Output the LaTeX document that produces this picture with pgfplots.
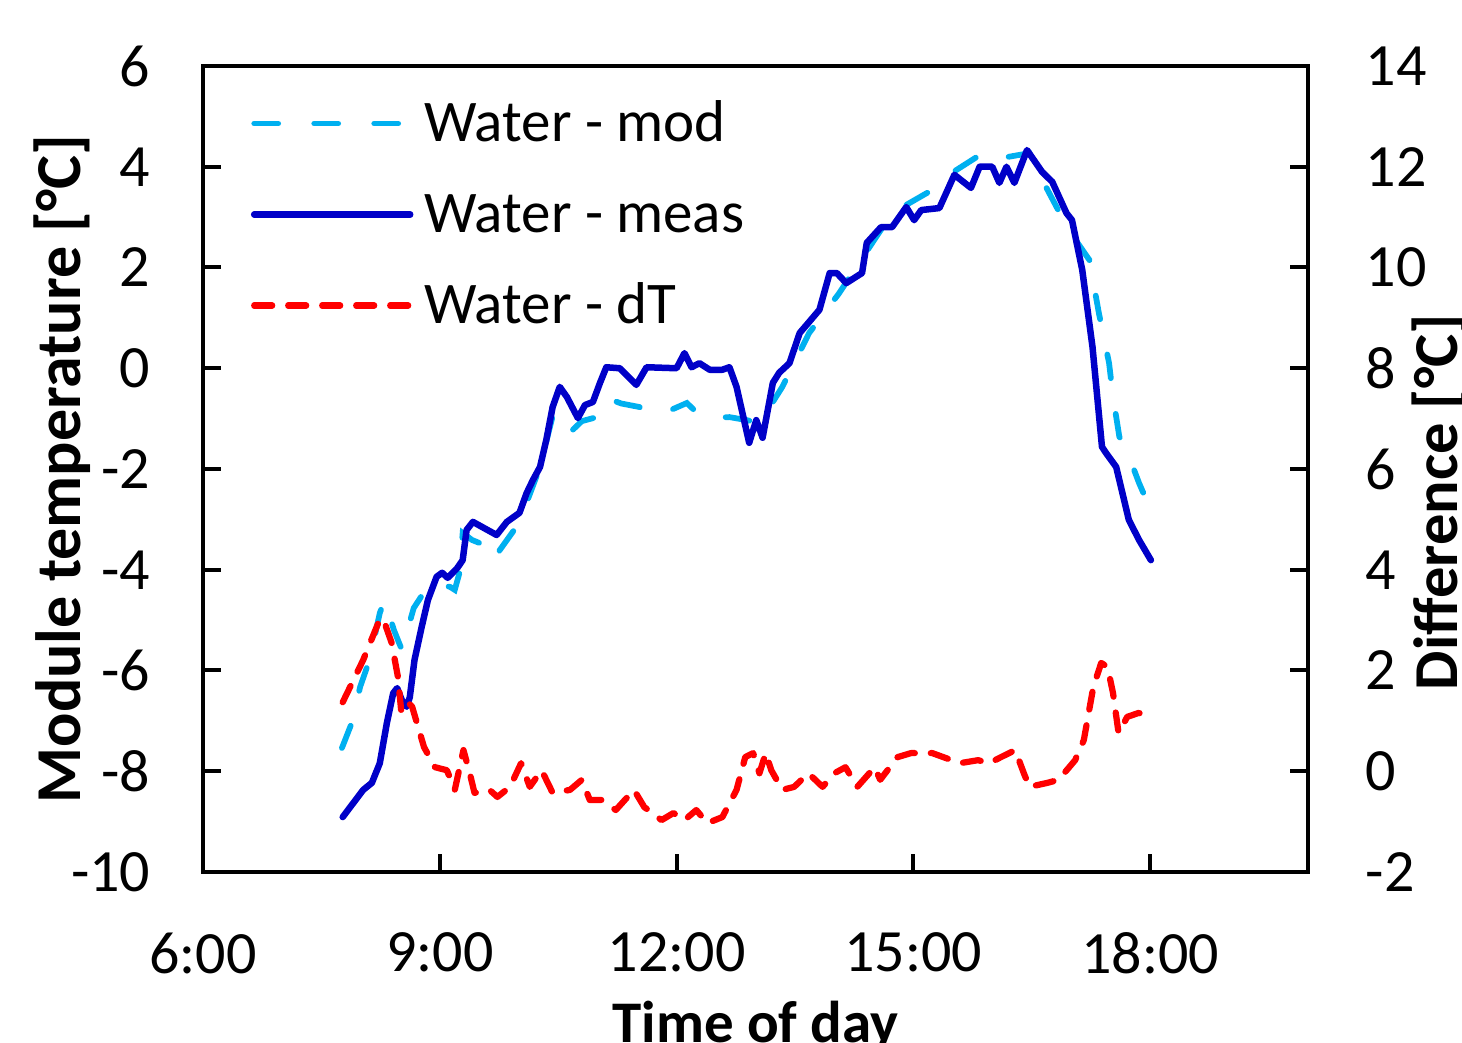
\documentclass[border=0pt]{standalone}
\usepackage{fontspec}
\setmainfont{Carlito}
\usepackage{pgfplots}
\pgfplotsset{compat=1.18}
\definecolor{meas}{RGB}{0,0,200}
\definecolor{modc}{RGB}{0,176,240}
\definecolor{dtc}{RGB}{255,0,0}
\begin{document}
\begin{tikzpicture}
\pgfplotsset{
  common/.style={
    scale only axis, width=221pt, height=161.2pt,
    xmin=6, xmax=20,
    tick align=inside,
    major tick length=3.6pt,
    every tick/.style={black, line width=0.8pt},
    axis line style={line width=0.8pt, black},
    tick label style={font=\fontsize{12}{14}\selectfont, text=black},
  }
}
\begin{axis}[
  common,
  ymin=-10, ymax=6,
  xtick={6,9,12,15,18}, xticklabels={6:00,9:00,12:00,15:00,18:00},
  ytick={-10,-8,-6,-4,-2,0,2,4,6}, yticklabels={-10,-8,-6,-4,-2,0,2,4,6},
  xtick pos=bottom, ytick pos=left,
  yticklabel style={xshift=-7pt},
  xticklabel style={yshift=-8.6pt},
  xlabel={Time of day},
  ylabel={Module temperature [°C]},
  every axis x label/.style={at={(axis description cs:0.5,-0.2120)}, anchor=base, font=\bfseries\fontsize{11.8}{14}\selectfont},
  every axis y label/.style={at={(axis description cs:-0.1113,0.5)}, rotate=90, anchor=base, font=\bfseries\fontsize{12.8}{15}\selectfont},
  legend style={draw=none, fill=none, at={(axis description cs:0.0425,0.9615)}, anchor=north west,
    font=\fontsize{11.8}{14}\selectfont, inner sep=0pt, row sep=7.2pt,
    nodes={inner sep=0pt, text height=8.6pt, text depth=2.4pt}},
  legend cell align=left,
  /tikz/every odd column/.append style={column sep=2.2pt},
  legend image code/.code={\draw[#1] (0pt,0.4pt) -- (31.2pt,0.4pt);},
]
\addplot[modc, line width=1.15pt, line cap=round, dash pattern=on 4.8pt off 7.2pt] coordinates {
(7.76,-7.54) (7.90,-6.98) (7.99,-6.33) (8.11,-5.79) (8.24,-4.86) (8.30,-4.60) (8.42,-5.20) (8.52,-5.59)
(8.67,-4.76) (8.82,-4.40) (8.87,-4.26) (9.13,-4.34) (9.19,-4.40) (9.25,-4.06) (9.29,-3.27) (9.41,-3.41)
(9.63,-3.55) (9.70,-3.81) (9.76,-3.61) (9.97,-3.15) (10.10,-2.67) (10.27,-1.96) (10.43,-0.95) (10.52,-0.83)
(10.68,-1.23) (10.80,-1.05) (10.99,-0.97) (11.11,-0.59) (11.30,-0.70) (11.53,-0.77) (11.78,-0.93) (12.13,-0.69)
(12.33,-0.99) (12.67,-0.97) (12.89,-1.03) (13.05,-1.09) (13.34,-0.37) (13.68,0.70) (14.06,1.49) (14.40,2.30)
(14.73,3.08) (15.24,3.54) (15.49,3.88) (15.84,4.23) (16.00,4.10) (16.18,4.19) (16.47,4.27) (16.68,3.60)
(16.97,2.74) (17.23,2.15) (17.35,1.10) (17.48,0.10) (17.53,-0.57) (17.61,-1.36) (17.70,-1.62) (17.86,-2.28)
(17.99,-2.75)
};
\addlegendentry{Water - mod}
\addplot[meas, line width=1.3pt, line join=round, line cap=round] coordinates {
(7.77,-8.91) (8.03,-8.37) (8.14,-8.23) (8.24,-7.84) (8.33,-7.04) (8.41,-6.45) (8.46,-6.35) (8.52,-6.59)
(8.58,-6.72) (8.62,-6.53) (8.68,-5.79) (8.77,-5.14) (8.85,-4.60) (8.96,-4.14) (9.03,-4.06) (9.10,-4.16)
(9.22,-3.97) (9.29,-3.81) (9.34,-3.21) (9.42,-3.05) (9.72,-3.31) (9.85,-3.05) (10.01,-2.87) (10.10,-2.48)
(10.18,-2.22) (10.27,-1.96) (10.35,-1.42) (10.43,-0.77) (10.52,-0.37) (10.61,-0.57) (10.75,-0.99) (10.84,-0.73)
(10.94,-0.67) (11.03,-0.29) (11.11,0.02) (11.28,0.00) (11.49,-0.33) (11.62,0.02) (12.00,0.00) (12.10,0.30)
(12.19,0.02) (12.29,0.10) (12.42,-0.03) (12.58,-0.03) (12.67,0.02) (12.76,-0.37) (12.92,-1.48) (13.01,-1.03)
(13.09,-1.38) (13.22,-0.29) (13.30,-0.09) (13.43,0.10) (13.56,0.70) (13.68,0.92) (13.81,1.16) (13.94,1.89)
(14.03,1.89) (14.15,1.69) (14.35,1.89) (14.41,2.49) (14.59,2.80) (14.73,2.80) (14.91,3.20) (15.01,2.94)
(15.10,3.14) (15.33,3.18) (15.52,3.84) (15.73,3.58) (15.84,4.00) (16.00,4.00) (16.09,3.68) (16.18,4.00)
(16.28,3.68) (16.44,4.33) (16.63,3.90) (16.76,3.70) (16.94,3.08) (17.01,2.94) (17.14,1.95) (17.27,0.42)
(17.39,-1.56) (17.44,-1.68) (17.57,-1.96) (17.73,-3.01) (17.86,-3.41) (18.01,-3.81)
};
\addlegendentry{Water - meas}
\addlegendimage{dtc, line width=1.25pt, line cap=round, dash pattern=on 3.6pt off 3.2pt}
\addlegendentry{Water - dT}
\end{axis}
\begin{axis}[
  common,
  ymin=-2, ymax=14,
  hide x axis,
  ytick={-2,0,2,4,6,8,10,12,14}, yticklabels={-2,0,2,4,6,8,10,12,14},
  ytick pos=right, yticklabel pos=right,
  yticklabel style={xshift=8pt},
  ylabel={Difference [°C]},
  every axis y label/.style={at={(axis description cs:1.1357,0.459)}, rotate=90, anchor=base, font=\bfseries\fontsize{12.5}{15}\selectfont},
]
\addplot[dtc, line width=1.25pt, line cap=round, line join=round, dash pattern=on 3.6pt off 3.2pt] coordinates {
(7.77,1.37) (8.03,2.21) (8.22,2.94) (8.28,3.04) (8.39,2.55) (8.47,1.87) (8.51,1.22) (8.57,1.41)
(8.65,1.28) (8.80,0.48) (8.94,0.08) (9.09,0.02) (9.19,-0.37) (9.30,0.42) (9.38,-0.04) (9.44,-0.43)
(9.63,-0.37) (9.73,-0.51) (9.89,-0.31) (10.03,0.16) (10.14,-0.31) (10.29,0.02) (10.43,-0.43) (10.65,-0.37)
(10.80,-0.17) (10.90,-0.57) (11.05,-0.57) (11.23,-0.77) (11.46,-0.37) (11.59,-0.71) (11.81,-0.97) (11.96,-0.83)
(12.10,-0.97) (12.25,-0.77) (12.39,-1.03) (12.58,-0.91) (12.76,-0.37) (12.87,0.28) (12.97,0.36) (13.05,-0.04)
(13.13,0.36) (13.20,0.02) (13.34,-0.37) (13.49,-0.31) (13.67,-0.04) (13.85,-0.31) (14.00,-0.04) (14.14,0.08)
(14.29,-0.31) (14.51,0.08) (14.58,-0.17) (14.80,0.28) (14.97,0.36) (15.24,0.36) (15.38,0.28) (15.59,0.16)
(15.82,0.22) (15.96,0.16) (16.11,0.28) (16.29,0.42) (16.40,-0.04) (16.47,-0.31) (16.70,-0.23) (16.84,-0.17)
(17.05,0.22) (17.16,0.62) (17.28,1.67) (17.38,2.15) (17.46,2.07) (17.53,1.55) (17.60,0.76) (17.71,1.08)
(17.86,1.16) (17.96,1.02)
};
\end{axis}
\pgfresetboundingbox
\useasboundingbox (-40.6pt,-34.2pt) rectangle (251.8pt,174.4pt);
\end{tikzpicture}
\end{document}
